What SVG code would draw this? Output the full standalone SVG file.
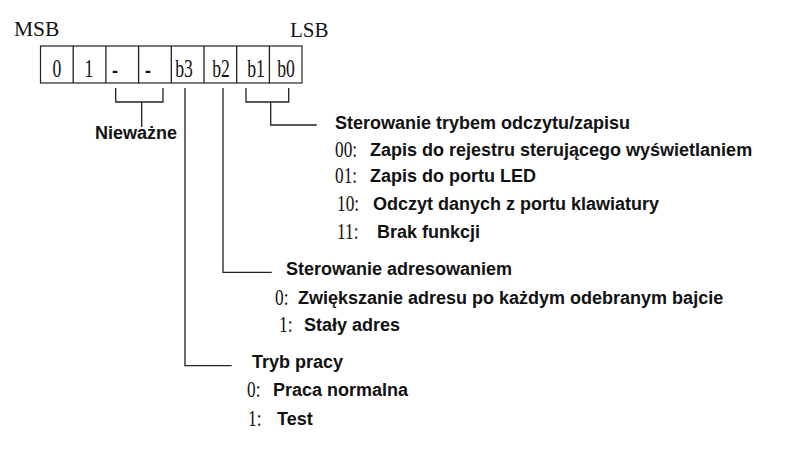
<svg xmlns="http://www.w3.org/2000/svg" width="800" height="457" viewBox="0 0 800 457">
<style>
.ser{font-family:"Liberation Serif","Times New Roman",serif;fill:#111}
.cell{font-family:"Liberation Serif","Times New Roman",serif;font-size:26px;fill:#111;text-anchor:middle}
.b{font-family:"Liberation Sans",Arial,sans-serif;font-weight:bold;font-size:18px;fill:#111}
.num{font-family:"Liberation Serif","Times New Roman",serif;font-size:24px;fill:#111}
.ln{fill:none;stroke:#222;stroke-width:1.3}
.box{fill:#fff;stroke:#222;stroke-width:1.2}
</style>
<rect width="800" height="457" fill="#fff"/>
<g id="register">
<text class="ser" x="14" y="36" font-size="21.5">MSB</text>
<text class="ser" x="290" y="37" font-size="21">LSB</text>
<rect class="box" x="40.5" y="46" width="261.5" height="37"/>
<path class="ln" d="M73.2 46V83M105.9 46V83M138.6 46V83M171.3 46V83M204 46V83M236.7 46V83M269.4 46V83" stroke-width="1.2"/>
<text class="cell" transform="translate(57,77) scale(0.68,1)">0</text>
<text class="cell" transform="translate(89,77) scale(0.68,1)">1</text>
<text class="b" x="115" y="77" text-anchor="middle" font-size="16">-</text>
<text class="b" x="148" y="77" text-anchor="middle" font-size="16">-</text>
<text class="cell" transform="translate(184,77) scale(0.68,1)">b3</text>
<text class="cell" transform="translate(221,77) scale(0.68,1)">b2</text>
<text class="cell" transform="translate(256,77) scale(0.68,1)">b1</text>
<text class="cell" transform="translate(286,77) scale(0.68,1)">b0</text>
</g>
<g id="connectors">
<path class="ln" d="M115.7 88V102H163V88M141.7 102V127"/>
<path class="ln" d="M246 88V102H288.7V88M270.7 102V125H316.7"/>
<path class="ln" d="M223 88V272.3H271.7"/>
<path class="ln" d="M185 88V365.7H231.7"/>
</g>
<g id="node-niewazne">
<text class="b" x="95" y="139">Nieważne</text>
</g>
<g id="node-rw">
<text class="b" x="335" y="129">Sterowanie trybem odczytu/zapisu</text>
<text class="num" transform="translate(335,157) scale(0.72,1)">00:</text><text class="b" x="370" y="156">Zapis do rejestru sterującego wyświetlaniem</text>
<text class="num" transform="translate(335,183) scale(0.72,1)">01:</text><text class="b" x="370" y="182">Zapis do portu LED</text>
<text class="num" transform="translate(337,211) scale(0.72,1)">10:</text><text class="b" x="373" y="210">Odczyt danych z portu klawiatury</text>
<text class="num" transform="translate(337,239) scale(0.72,1)">11:</text><text class="b" x="377" y="238">Brak funkcji</text>
</g>
<g id="node-addr">
<text class="b" x="286" y="275">Sterowanie adresowaniem</text>
<text class="num" transform="translate(275,305) scale(0.72,1)">0:</text><text class="b" x="298" y="304">Zwiększanie adresu po każdym odebranym bajcie</text>
<text class="num" transform="translate(279,332) scale(0.72,1)">1:</text><text class="b" x="304" y="331">Stały adres</text>
</g>
<g id="node-mode">
<text class="b" x="252" y="368">Tryb pracy</text>
<text class="num" transform="translate(247,397) scale(0.72,1)">0:</text><text class="b" x="273" y="396">Praca normalna</text>
<text class="num" transform="translate(248,426) scale(0.72,1)">1:</text><text class="b" x="277" y="425">Test</text>
</g>
</svg>
